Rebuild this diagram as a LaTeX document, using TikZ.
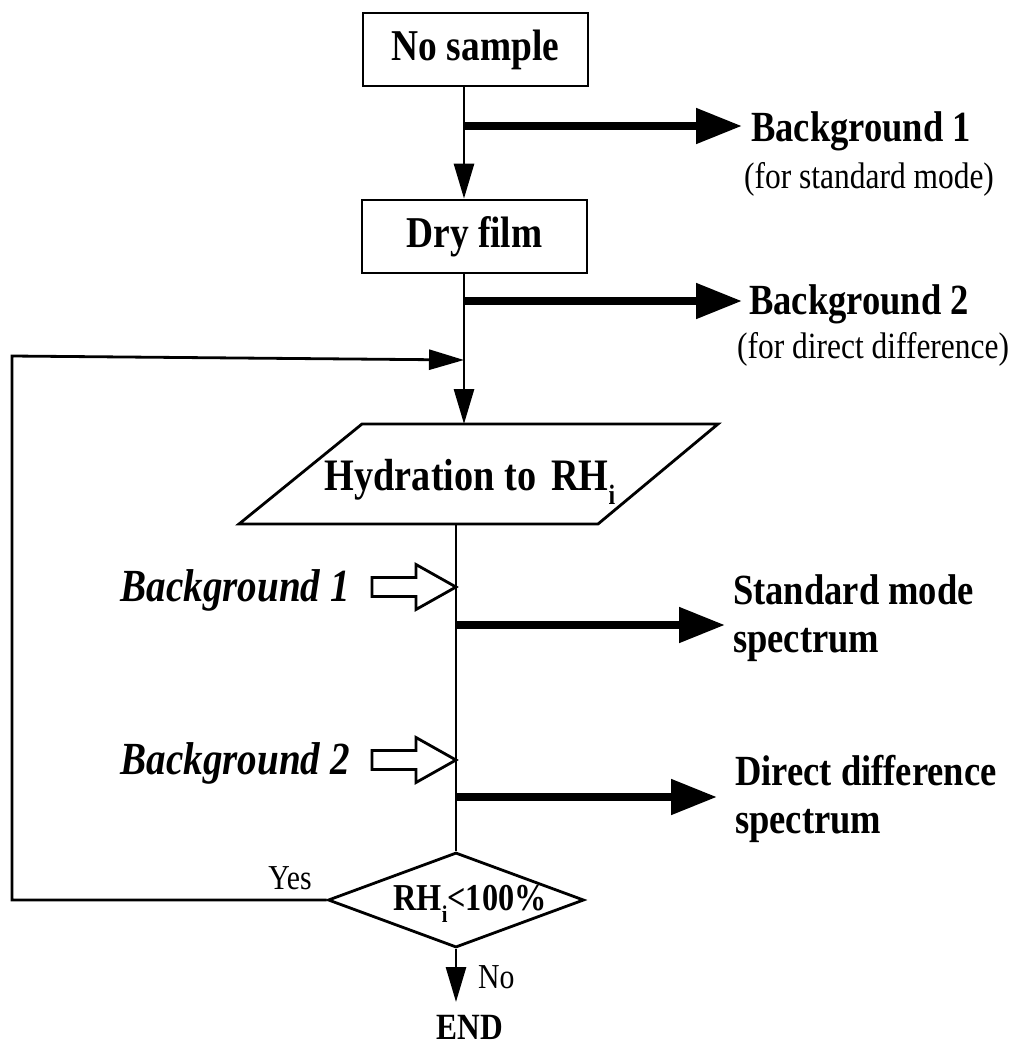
\documentclass[tikz,border=0pt]{standalone}
\usepackage{fontspec}
\setmainfont{Liberation Serif}[FakeStretch=0.85]
\usetikzlibrary{arrows.meta,shapes.geometric}
\newcommand\mysub[1]{\raisebox{-0.32em}{\fontsize{#1}{#1}\selectfont i}}
\begin{document}
\begin{tikzpicture}[x=1pt,y=-1pt,
  lnw/.style={line width=2.8pt},
  arr/.style={lnw,line join=miter,-{Triangle[length=35pt,width=20pt]}},
  bigarr/.style={line width=8pt,-{Triangle[length=46pt,width=34pt]}},
  hollow/.style={line width=2.8pt,fill=white,line join=miter},
  boxn/.style={draw,lnw,minimum width=225pt,minimum height=73pt,inner sep=0pt,font=\fontsize{44}{44}\selectfont\bfseries},
  bt/.style={inner sep=0pt,font=\fontsize{43}{43}\selectfont\bfseries},
  itx/.style={inner sep=0pt,font=\fontsize{46}{46}\selectfont\bfseries\itshape},
  rt/.style={inner sep=0pt,font=\fontsize{37}{37}\selectfont},
  st/.style={inner sep=0pt,font=\fontsize{35}{35}\selectfont}
]
\useasboundingbox (0,0) rectangle (1027,1045);
\fill[white] (0,0) rectangle (1027,1045);

% process boxes
\node[boxn] (ns) at (475.5,49.5) {No sample};
\node[boxn] (df) at (474.5,236.5) {Dry film};

% points on the flow lines
\coordinate (b1) at (464,126);
\coordinate (b1e) at (742,126);
\coordinate (b2) at (464,301);
\coordinate (b2e) at (742,301);
\coordinate (lin) at (464,360);
\coordinate (ptop) at (464,424);
\coordinate (pbot) at (456,524);
\coordinate (h1) at (456,587);
\coordinate (b3) at (456,625);
\coordinate (b3e) at (725,625);
\coordinate (h2) at (456,760);
\coordinate (b4) at (456,797);
\coordinate (b4e) at (717,797);
\coordinate (lc1) at (12,900);
\coordinate (lc2) at (12,356);
\coordinate (endtip) at (456,1002);

% hydration parallelogram
\draw[lnw,line join=miter] (239,524) -- (362,424) -- (718,424) -- (598,524) -- cycle;
\node[inner sep=0pt,anchor=base,font=\fontsize{45}{45}\selectfont\bfseries] (hy) at (470,490) {Hydration to\,\,RH\mysub{28}};

% decision diamond
\node[draw,lnw,diamond,minimum width=256pt,minimum height=95pt,inner sep=0pt] (dm) at (456,900) {};
\node[inner sep=0pt,anchor=base,font=\fontsize{38}{38}\selectfont\bfseries] (dmt) at (470,910) {RH\mysub{24}<100\%};

% main flow
\draw[arr] (ns.south -| b1) -- (df.north -| b1);
\draw[arr] (df.south -| b1) -- (ptop);
\draw[lnw] (pbot) -- (dm.north);
\draw[arr] (dm.west) -- (lc1) -- (lc2) -- (lin);
\draw[arr] (dm.south) -- (endtip);

% output branches
\draw[bigarr] (b1) -- (b1e);
\draw[bigarr] (b2) -- (b2e);
\draw[bigarr] (b3) -- (b3e);
\draw[bigarr] (b4) -- (b4e);

% hollow input arrows
\draw[hollow] (h1) -- ++(-40,-22.5) -- ++(0,13) -- ++(-44,0) -- ++(0,19) -- ++(44,0) -- ++(0,13) -- cycle;
\draw[hollow] (h2) -- ++(-40,-22.5) -- ++(0,13) -- ++(-44,0) -- ++(0,19) -- ++(44,0) -- ++(0,13) -- cycle;

% labels
\node[bt,anchor=base west] (t1) at (751,141) {Background 1};
\node[rt,anchor=base west] (t1b) at (744,188) {(for standard mode)};
\node[bt,anchor=base west] (t2) at (749,314) {Background 2};
\node[rt,anchor=base west] (t2b) at (737,358) {(for direct difference)};
\node[itx,anchor=base east] (i1) at (350,601) {Background 1};
\node[itx,anchor=base east] (i2) at (350,774) {Background 2};
\node[bt,anchor=base west] (sm1) at (733,604) {Standard mode};
\node[bt,anchor=base west] (sm2) at (733,652) {spectrum};
\node[bt,anchor=base west] (dd1) at (735,785) {Direct difference};
\node[bt,anchor=base west] (dd2) at (735,833) {spectrum};
\node[st,anchor=base] (yes) at (290,889) {Yes};
\node[st,anchor=base west] (no) at (478,988) {No};
\node[inner sep=0pt,anchor=base,font=\fontsize{37}{37}\selectfont\bfseries] (endn) at (470,1039) {END};
\end{tikzpicture}
\end{document}
